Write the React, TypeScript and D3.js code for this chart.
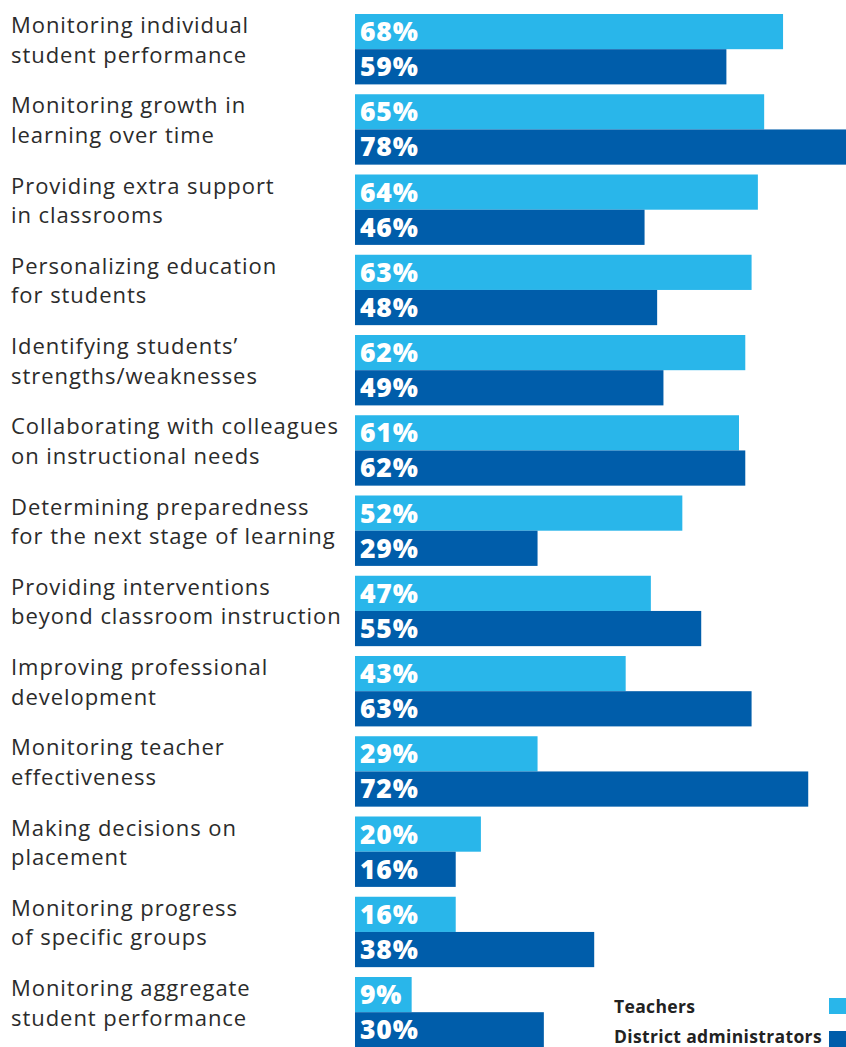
import React from "react";
import * as d3 from "d3";

const categories: string[][] = [
  ["Monitoring individual", "student performance"],
  ["Monitoring growth in", "learning over time"],
  ["Providing extra support", "in classrooms"],
  ["Personalizing education", "for students"],
  ["Identifying students\u2019", "strengths/weaknesses"],
  ["Collaborating with colleagues", "on instructional needs"],
  ["Determining preparedness", "for the next stage of learning"],
  ["Providing interventions", "beyond classroom instruction"],
  ["Improving professional", "development"],
  ["Monitoring teacher", "effectiveness"],
  ["Making decisions on", "placement"],
  ["Monitoring progress", "of specific groups"],
  ["Monitoring aggregate", "student performance"],
];
const teachers = [68, 65, 64, 63, 62, 61, 52, 47, 43, 29, 20, 16, 9];
const admins = [59, 78, 46, 48, 49, 62, 29, 55, 63, 72, 16, 38, 30];
const seriesNames = ["Teachers", "District administrators"];
const colors = ["#29B6EA", "#005DAA"];

export default function App() {
  const W = 846, H = 1047;
  const x0 = 355;
  const x = d3.scaleLinear().domain([0, 78]).range([x0, 846]);
  const step = 80.25;
  const bh = 35.2;
  const y = d3.scaleLinear().domain([0, 1]).range([14, 14 + step]);
  const textFont = "'Open Sans', sans-serif";
  return (
    <svg width={W} height={H} style={{ position: "absolute", left: 0, top: 0, display: "block" }}>
      {categories.map((lines, i) => {
        const top = y(i);
        return (
          <g key={i}>
            {lines.map((l, j) => (
              <text key={j} x={11} y={top + 19 + j * 29.5} fontFamily={textFont} fontSize={22} letterSpacing={0.95} fill="#2b2b2b">{l}</text>
            ))}
            {[teachers[i], admins[i]].map((v, k) => (
              <g key={k}>
                <rect x={x0} y={top + k * bh} width={x(v) - x0} height={bh} fill={colors[k]} />
                <text x={x0 + 5} y={top + k * bh + 27} fontFamily={textFont} fontWeight={800} fontSize={26.5} letterSpacing={0.8} fill="#fff">{v}%</text>
              </g>
            ))}
          </g>
        );
      })}
      {seriesNames.map((s, k) => (
        <g key={s}>
          <text x={614} y={1013 + k * 30} fontFamily={textFont} fontWeight={700} fontSize={17.5} letterSpacing={0.35} fill="#222">{s}</text>
          <rect x={829} y={998 + k * 33} width={17} height={16} fill={colors[k]} />
        </g>
      ))}
    </svg>
  );
}
